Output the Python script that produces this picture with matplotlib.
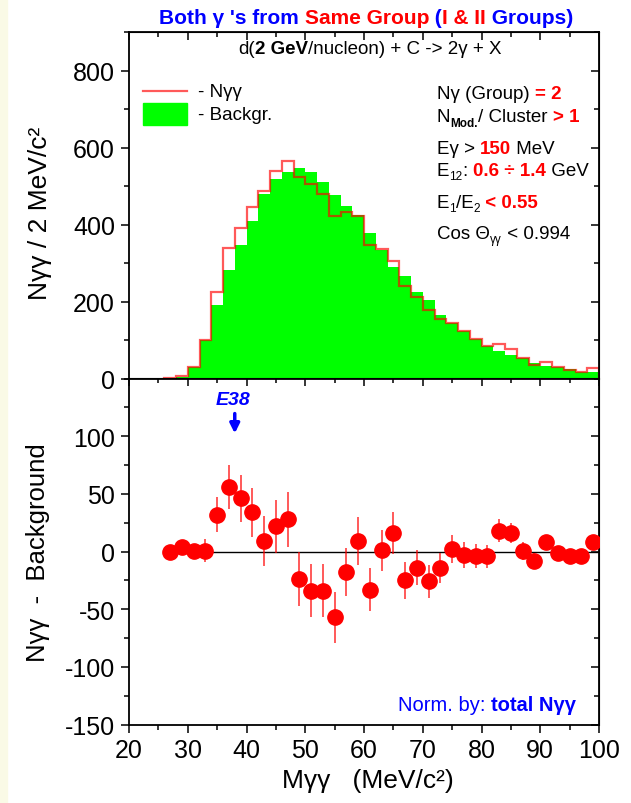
import numpy as np
import matplotlib
matplotlib.use('Agg')
import matplotlib.pyplot as plt
from matplotlib.patches import Rectangle
from matplotlib.ticker import MultipleLocator, FixedLocator

plt.rcParams['font.family'] = ['Liberation Sans', 'DejaVu Sans']
plt.rcParams['axes.unicode_minus'] = False

# invariant mass histogram, 2 MeV/c^2 bins from 26 to 100
bin_edges = np.arange(26, 101, 2)
n_gg = [1, 7, 31, 100, 224, 340, 391, 445, 488, 540, 564, 523, 504, 479,
        423, 433, 423, 348, 336, 306, 241, 211, 178, 154, 144, 124, 102,
        85, 89, 76, 52, 35, 43, 30, 22, 18, 26]
n_bg = [0, 3, 30, 101, 191, 282, 347, 410, 479, 517, 536, 546, 537, 511,
        477, 449, 425, 378, 335, 290, 267, 224, 204, 165, 144, 124, 102,
        85, 72, 61, 52, 40, 33, 30, 24, 18, 17]

# N_gg - background at the bin centres
m_centres = np.arange(27, 100, 2)
diff = [0, 4, 0.5, 0.5, 32, 56, 46, 34, 9, 22, 28, -24, -34, -34, -57, -18,
        9, -33, 1, 16, -25, -14, -26, -14, 2, -3, -4, -4, 18, 16, 0.5, -8,
        8, -1, -4, -4, 8]
diff_err = [2, 5, 6, 10, 15, 19, 20, 21, 22, 23, 24, 23.5, 23, 23, 22, 21,
            21, 19, 18, 18, 16, 15, 14, 13, 12, 11.5, 10.5, 10, 10, 9, 8, 7,
            6.5, 6, 5, 5, 5]

W_PX, H_PX = 631, 804
fig = plt.figure(figsize=(W_PX / 100, H_PX / 100), dpi=100)
fig.patches.append(Rectangle((0, 0), 7 / W_PX, 1, transform=fig.transFigure,
                             color='#fafae6', zorder=-1))

left, width = 129 / W_PX, 470 / W_PX
ax1 = fig.add_axes([left, 1 - 379.5 / H_PX, width, 346.5 / H_PX])
ax2 = fig.add_axes([left, 1 - 725.5 / H_PX, width, 346 / H_PX])

renderer = fig.canvas.get_renderer()


def measure(s, **kw):
    t = fig.text(0, 0, s, **kw)
    w = t.get_window_extent(renderer).width
    t.remove()
    return w


def put_parts(x, y, parts, ha='left'):
    # one line of text made of differently styled pieces, x/y in pixels from top-left (baseline)
    widths = []
    for s, kw in parts:
        kw = {k: v for k, v in kw.items() if k != 'dy'}
        widths.append(measure(s + '|', **kw) - measure('|', **kw))
    if ha == 'center':
        x -= sum(widths) / 2
    for (s, kw), w in zip(parts, widths):
        kw = dict(kw)
        dy = kw.pop('dy', 0)
        fig.text(x / W_PX, 1 - (y + dy) / H_PX, s, va='baseline', ha='left', **kw)
        x += w


def style_axes(ax, yticks, yminor, bottom_ticks):
    for sp in ax.spines.values():
        sp.set_linewidth(1.3)
    ax.set_xlim(20, 100)
    ax.xaxis.set_major_locator(MultipleLocator(10))
    ax.xaxis.set_minor_locator(MultipleLocator(5))
    ax.yaxis.set_major_locator(FixedLocator(yticks))
    ax.yaxis.set_minor_locator(MultipleLocator(yminor))
    ax.tick_params(axis='y', which='both', direction='out', labelsize=18, pad=4)
    ax.tick_params(axis='x', which='both', direction='out', labelsize=18, pad=4,
                   bottom=bottom_ticks, labelbottom=bottom_ticks)
    ax.tick_params(which='major', length=6, width=1.1)
    ax.tick_params(which='minor', length=3.5, width=1.1)
    right = ax.secondary_yaxis('right')
    right.yaxis.set_major_locator(FixedLocator(yticks))
    right.yaxis.set_minor_locator(MultipleLocator(yminor))
    right.tick_params(which='both', direction='in', labelright=False)
    right.tick_params(which='major', length=6, width=1.1)
    right.tick_params(which='minor', length=3.5, width=1.1)
    top = ax.secondary_xaxis('top')
    top.xaxis.set_major_locator(MultipleLocator(10))
    top.xaxis.set_minor_locator(MultipleLocator(5))
    top.tick_params(which='both', direction='in', labeltop=False)
    top.tick_params(which='major', length=6, width=1.1)
    top.tick_params(which='minor', length=3.5, width=1.1)


# upper panel: measured spectrum over background
ax1.stairs(n_bg, bin_edges, fill=True, color='#00ff00', lw=0)
ax1.stairs(n_gg, bin_edges, color='red', alpha=0.65, lw=1.6)
ax1.set_ylim(0, 900)
style_axes(ax1, [0, 200, 400, 600, 800], 100, False)

ax1.plot([0.03, 0.123], [0.831, 0.831], color='red', alpha=0.65, lw=1.6,
         transform=ax1.transAxes)
ax1.add_patch(Rectangle((0.03, 0.732), 0.093, 0.063, color='#00ff00',
                        transform=ax1.transAxes))
ax1.text(0.147, 0.828, '- Nγγ', fontsize=13.5, va='center', transform=ax1.transAxes)
ax1.text(0.147, 0.763, '- Backgr.', fontsize=13.5, va='center', transform=ax1.transAxes)

# lower panel: excess over background
ax2.hlines(0, m_centres[0], 100, color='black', lw=1)
ax2.errorbar(m_centres, diff, yerr=diff_err, fmt='o', color='red', ms=11,
             ecolor=(1, 0, 0, 0.7), elinewidth=1.3, capsize=0, zorder=3)
ax2.set_ylim(-150, 150)
style_axes(ax2, [-150, -100, -50, 0, 50, 100], 25, True)

ax2.annotate('', xy=(38, 100), xytext=(38, 122),
             arrowprops=dict(arrowstyle='-|>', color='blue', lw=2.5, mutation_scale=14))
ax2.text(37.75, 132, 'E38', color='blue', fontsize=14, fontweight='bold',
         fontstyle='italic', ha='center', va='center')

# axis titles
fig.text(40 / W_PX, 1 - 213 / H_PX, 'Nγγ / 2 MeV/c²', rotation=90, fontsize=19,
         ha='center', va='center')
fig.text(38 / W_PX, 1 - 553 / H_PX, 'Nγγ  -  Background', rotation=90, fontsize=18.5,
         ha='center', va='center')
fig.text(368 / W_PX, 1 - 781 / H_PX, 'Mγγ   (MeV/c²)', fontsize=19,
         ha='center', va='center')

BLUE_B = dict(color='blue', fontsize=15, fontweight='bold')
RED_B = dict(color='red', fontsize=15, fontweight='bold')
put_parts(366, 24.5, [("Both γ 's from ", BLUE_B), ('Same Group', RED_B), (' (', BLUE_B),
                      ('I & II', RED_B), (' Groups)', BLUE_B)], ha='center')

NORM = dict(color='black', fontsize=13.5)
BOLD = dict(color='black', fontsize=13.5, fontweight='bold')
put_parts(370, 54, [('d(', NORM), ('2 GeV', BOLD), ('/nucleon) + C -> 2γ + X', NORM)],
          ha='center')

# selection cuts
K = dict(color='black', fontsize=13.5)
R = dict(color='red', fontsize=13.5, fontweight='bold')
S = dict(color='black', fontsize=8.5, dy=4)
SB = dict(color='black', fontsize=8.5, fontweight='bold', dy=5)
x0 = 437
put_parts(x0, 99, [('Nγ (Group) ', K), ('= 2', R)])
put_parts(x0, 122, [('N', K), ('Mod.', SB), ('/ Cluster ', K), ('> 1', R)])
put_parts(x0, 154, [('Eγ > ', K), ('150', R), (' MeV', K)])
put_parts(x0, 176, [('E', K), ('12', S), (': ', K), ('0.6 ÷ 1.4', R), (' GeV', K)])
put_parts(x0, 208, [('E', K), ('1', S), ('/E', K), ('2', S), (' < 0.55', R)])
put_parts(x0, 239, [('Cos Θ', K), ('γγ', S), (' < 0.994', K)])

put_parts(398, 711, [('Norm. by: ', dict(color='blue', fontsize=14.5)),
                     ('total Nγγ', dict(color='blue', fontsize=14.5, fontweight='bold'))])

fig.savefig('out.png', dpi=100)
